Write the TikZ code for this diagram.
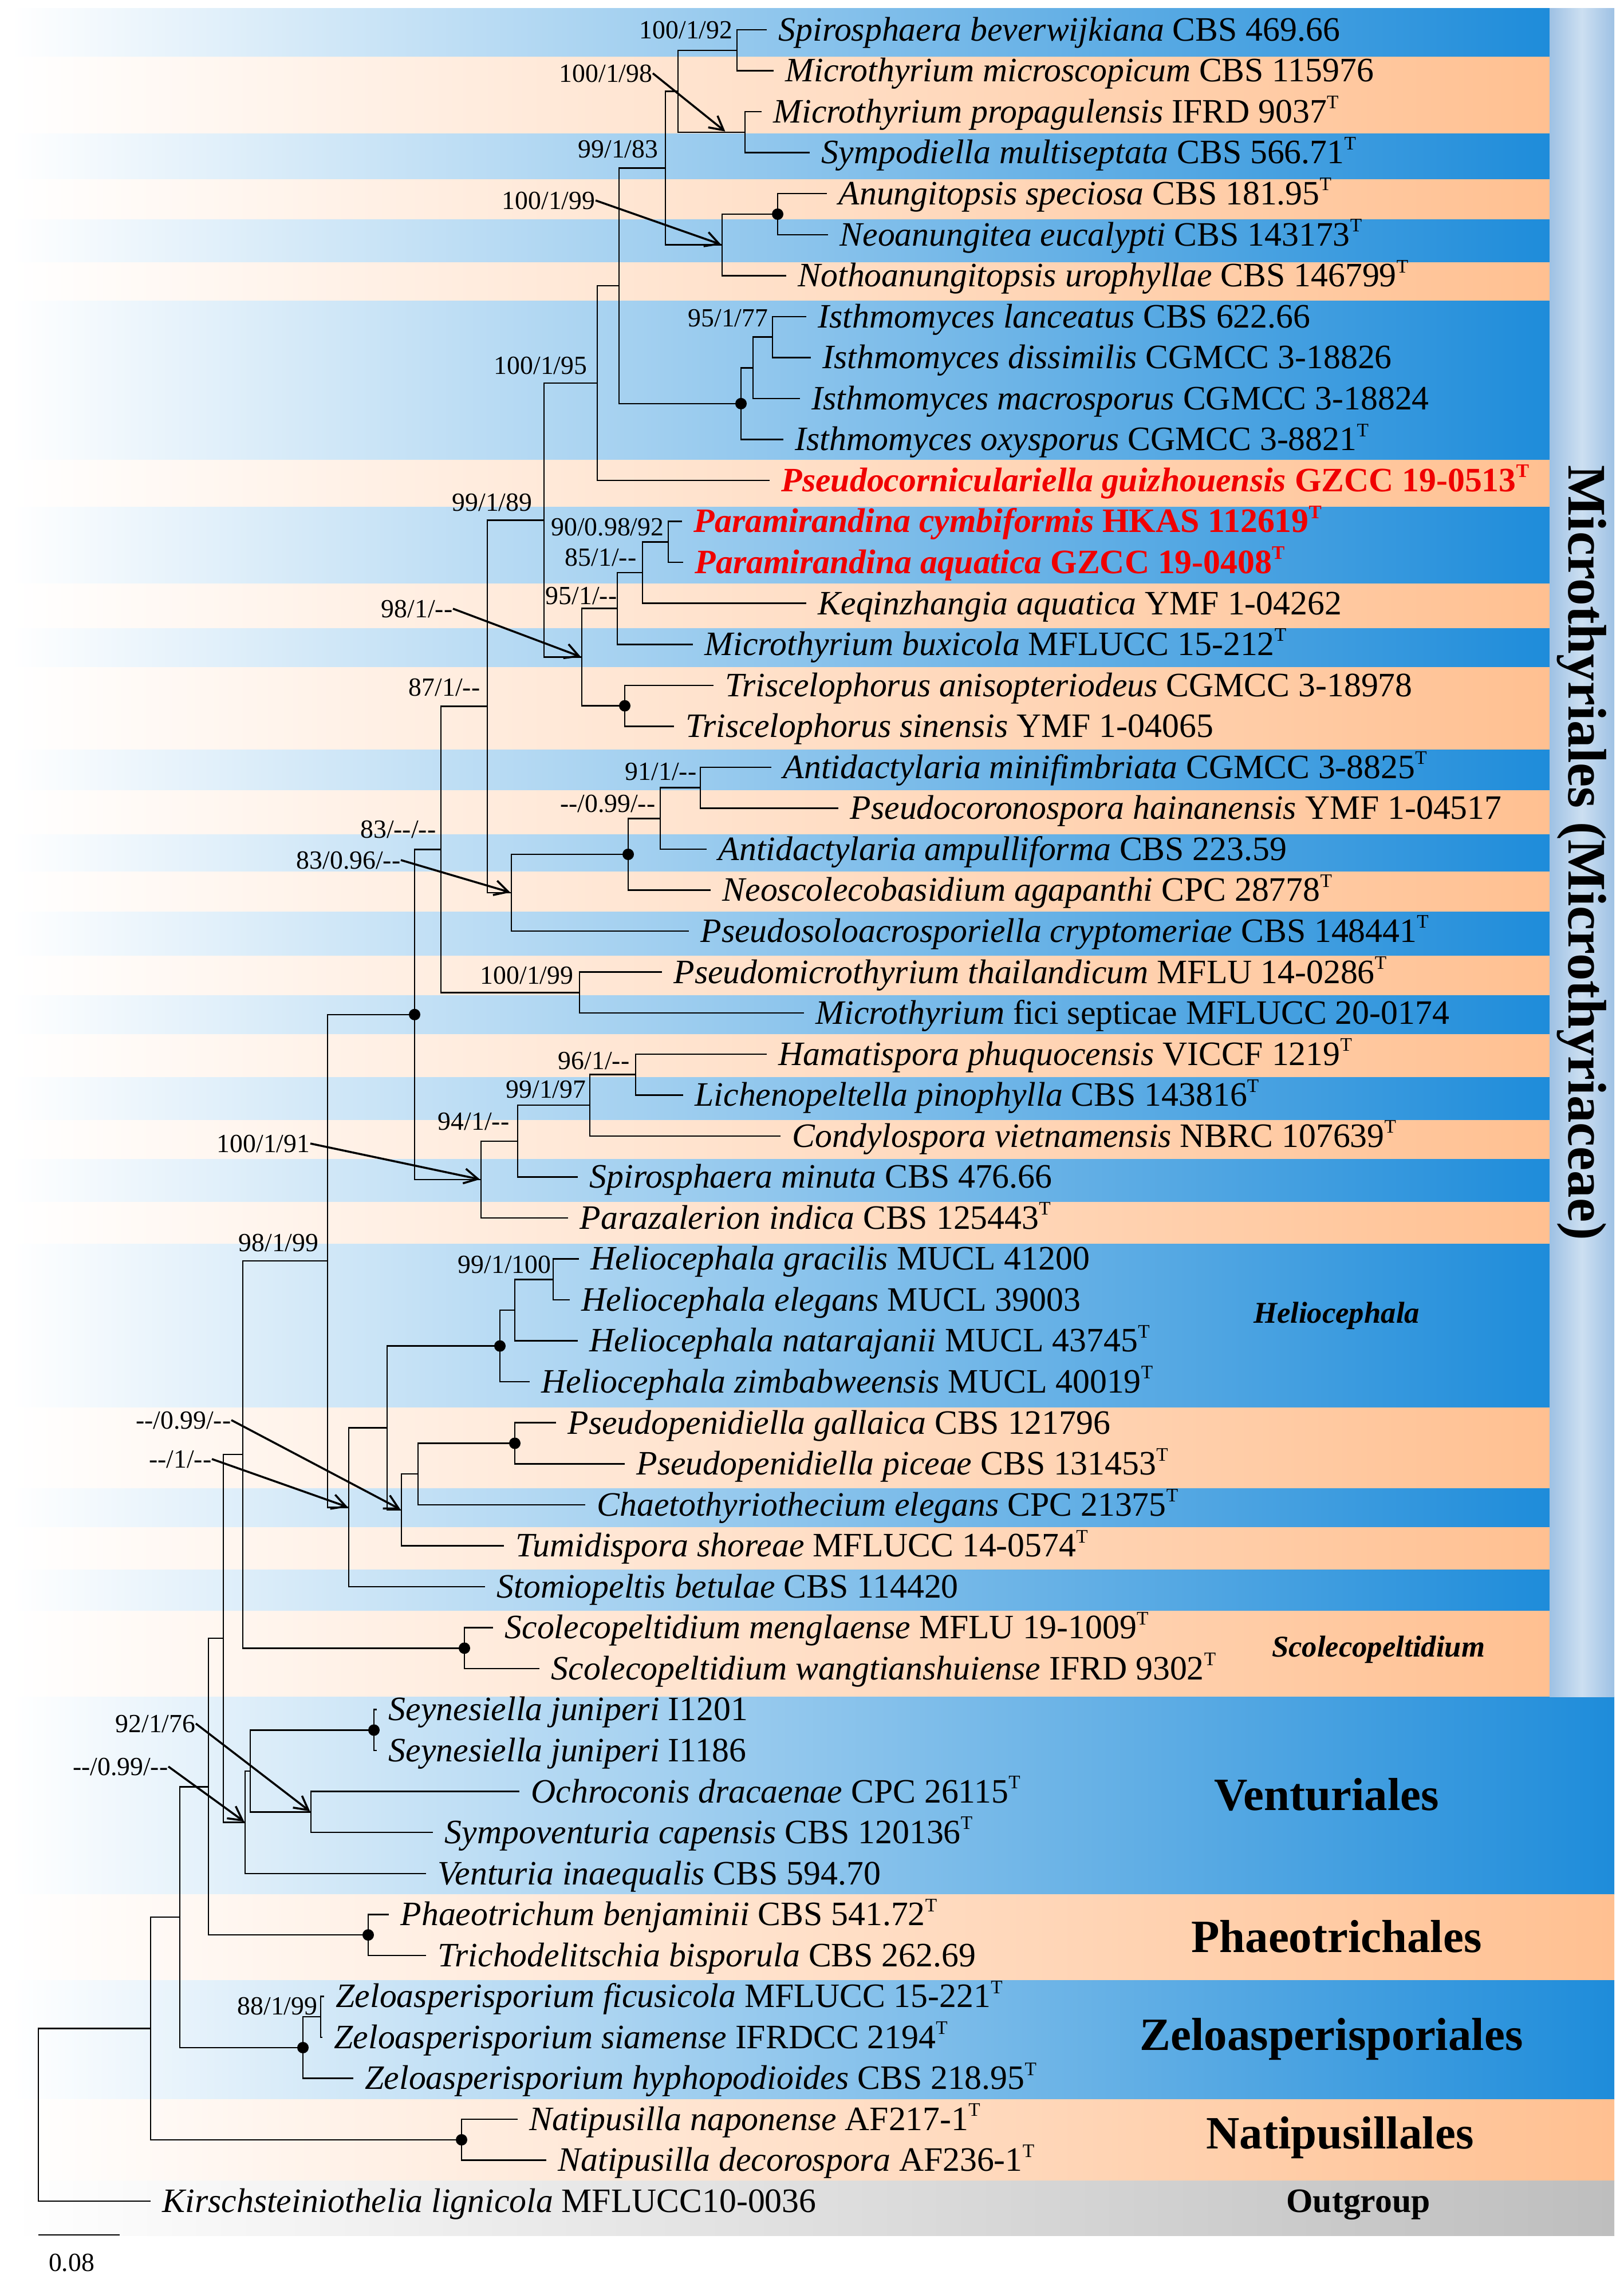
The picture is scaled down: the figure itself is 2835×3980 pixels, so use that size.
\documentclass[tikz,border=0pt]{standalone}
\usepackage{fontspec}
\setmainfont{Liberation Serif}
\usetikzlibrary{arrows.meta}
\definecolor{bandblue}{RGB}{30,140,218}
\definecolor{bandpeach}{RGB}{255,192,145}
\definecolor{bandgray}{RGB}{190,190,190}
\definecolor{baredge}{RGB}{158,193,228}
\definecolor{barmid}{RGB}{204,223,241}
\definecolor{newred}{RGB}{240,0,0}
\newcommand{\Ty}{\raisebox{7pt}{\fontsize{9.5}{9.5}\selectfont T}}
\tikzset{
  taxon/.style={anchor=west,inner xsep=2mm,inner ysep=0pt,text height=15pt,text depth=4pt,font=\fontsize{17}{20}\selectfont},
  newtaxon/.style={taxon,text=newred,font=\fontsize{17}{20}\selectfont\bfseries},
  supp/.style={anchor=east,inner sep=0pt,text height=9pt,text depth=0pt,font=\fontsize{13}{15}\selectfont},
  branch/.style={line width=0.25mm},
  sarrow/.style={line width=0.35mm,shorten >=0.2mm,-{Straight Barb[length=2.4mm,width=2.6mm]}},
  bpdot/.style={fill,circle,inner sep=0pt,minimum size=2mm},
  orderlab/.style={font=\fontsize{23}{27}\selectfont\bfseries},
  genuslab/.style={font=\fontsize{15}{18}\selectfont\bfseries\itshape}
}
\begin{document}
\begin{tikzpicture}[x=0.1mm,y=-0.1mm]
  \useasboundingbox (0,0) rectangle (2835,3980);
  \foreach \a/\b/\c in {15/100/bandblue,100/234/bandpeach,234/313/bandblue,313/383/bandpeach,
    383/458/bandblue,458/525/bandpeach,525/803/bandblue,803/885/bandpeach,885/1019/bandblue,
    1019/1097/bandpeach,1097/1165/bandblue,1165/1309/bandpeach,1309/1380/bandblue,1380/1457/bandpeach,
    1457/1522/bandblue,1522/1592/bandpeach,1592/1669/bandblue,1669/1738/bandpeach,1738/1806/bandblue,
    1806/1881/bandpeach,1881/1956/bandblue,1956/2024/bandpeach,2024/2099/bandblue,2099/2172/bandpeach,
    2172/2458/bandblue,2458/2599/bandpeach,2599/2667/bandblue,2667/2741/bandpeach,2741/2813/bandblue,
    2813/2963/bandpeach}
    \shade[left color=white,right color=\c] (20,\a) rectangle (2706,\b);
  \foreach \a/\b/\c in {2963/3308/bandblue,3308/3458/bandpeach,3458/3666/bandblue,3666/3808/bandpeach,3808/3904/bandgray}
    \shade[left color=white,right color=\c] (20,\a) rectangle (2819,\b);
  \shade[left color=baredge,right color=baredge,middle color=barmid] (2706,15) rectangle (2819,2963);
  \node[rotate=-90,font=\fontsize{27}{30}\selectfont\bfseries] (mic) at (2762,1489) {Microthyriales (Microthyriaceae)};

  \foreach \i/\x/\g/\c in {
    1/1339/Spirosphaera beverwijkiana/CBS 469.66,
    2/1351/Microthyrium microscopicum/CBS 115976,
    3/1330/Microthyrium propagulensis/IFRD 9037\Ty,
    4/1414/Sympodiella multiseptata/CBS 566.71\Ty,
    5/1444/Anungitopsis speciosa/CBS 181.95\Ty,
    6/1446/Neoanungitea eucalypti/CBS 143173\Ty,
    7/1373/Nothoanungitopsis urophyllae/CBS 146799\Ty,
    8/1408/Isthmomyces lanceatus/CBS 622.66,
    9/1416/Isthmomyces dissimilis/CGMCC 3-18826,
    10/1397/Isthmomyces macrosporus/CGMCC 3-18824,
    11/1368/Isthmomyces oxysporus/CGMCC 3-8821\Ty,
    15/1408/Keqinzhangia aquatica/YMF 1-04262,
    16/1210/Microthyrium buxicola/MFLUCC 15-212\Ty,
    17/1246/Triscelophorus anisopteriodeus/CGMCC 3-18978,
    18/1177/Triscelophorus sinensis/YMF 1-04065,
    19/1347/Antidactylaria minifimbriata/CGMCC 3-8825\Ty,
    20/1464/Pseudocoronospora hainanensis/YMF 1-04517,
    21/1234/Antidactylaria ampulliforma/CBS 223.59,
    22/1241/Neoscolecobasidium agapanthi/CPC 28778\Ty,
    23/1203/Pseudosoloacrosporiella cryptomeriae/CBS 148441\Ty,
    24/1156/Pseudomicrothyrium thailandicum/MFLU 14-0286\Ty,
    25/1404/Microthyrium/fici septicae MFLUCC 20-0174,
    26/1339/Hamatispora phuquocensis/VICCF 1219\Ty,
    27/1193/Lichenopeltella pinophylla/CBS 143816\Ty,
    28/1363/Condylospora vietnamensis/NBRC 107639\Ty,
    29/1009/Spirosphaera minuta/CBS 476.66,
    30/992/Parazalerion indica/CBS 125443\Ty,
    31/1011/Heliocephala gracilis/MUCL 41200,
    32/995/Heliocephala elegans/MUCL 39003,
    33/1009/Heliocephala natarajanii/MUCL 43745\Ty,
    34/925/Heliocephala zimbabweensis/MUCL 40019\Ty,
    35/971/Pseudopenidiella gallaica/CBS 121796,
    36/1091/Pseudopenidiella piceae/CBS 131453\Ty,
    37/1022/Chaetothyriothecium elegans/CPC 21375\Ty,
    38/880/Tumidispora shoreae/MFLUCC 14-0574\Ty,
    39/847/Stomiopeltis betulae/CBS 114420,
    40/861/Scolecopeltidium menglaense/MFLU 19-1009\Ty,
    41/942/Scolecopeltidium wangtianshuiense/IFRD 9302\Ty,
    42/658/Seynesiella juniperi/I1201,
    43/658/Seynesiella juniperi/I1186,
    44/907/Ochroconis dracaenae/CPC 26115\Ty,
    45/756/Sympoventuria capensis/CBS 120136\Ty,
    46/744/Venturia inaequalis/CBS 594.70,
    47/679/Phaeotrichum benjaminii/CBS 541.72\Ty,
    48/744/Trichodelitschia bisporula/CBS 262.69,
    49/566/Zeloasperisporium ficusicola/MFLUCC 15-221\Ty,
    50/563/Zeloasperisporium siamense/IFRDCC 2194\Ty,
    51/617/Zeloasperisporium hyphopodioides/CBS 218.95\Ty,
    52/904/Natipusilla naponense/AF217-1\Ty,
    53/954/Natipusilla decorospora/AF236-1\Ty,
    54/263/Kirschsteiniothelia lignicola/MFLUCC10-0036}
    \node[taxon] (t\i) at (\x,{52+71.55*(\i-1)}) {\textit{\g} \c};
  \node[newtaxon] (t12) at (1344,{52+71.55*11}) {\textit{Pseudocorniculariella guizhouensis} GZCC 19-0513\Ty};
  \node[newtaxon] (t13) at (1191,{52+71.55*12}) {\textit{Paramirandina cymbiformis} HKAS 112619\Ty};
  \node[newtaxon] (t14) at (1193,{52+71.55*13}) {\textit{Paramirandina aquatica} GZCC 19-0408\Ty};

  \foreach \n/\x/\y in {A/1287/87.8,B/1301/230.9,C/1184/159.4,D/1162/293.5,E/1358/374,F/1261/427.6,
    G/1081/499.2,H/1349/588.6,I/1315/642.3,J/1294/704.9,K/1043/669.2,L/950/908.4,M/1167/946.4,
    N/1122/1000,O/1078/1062.7,P/1091/1232.6,Q/1016/1147.6,R/851/1233.7,S/893/1559,T/1097/1492,
    U/1153/1429.3,V/1223/1375.7,W/770/1483.6,X/1012/1733.5,Y/724/1771.8,Z/1110/1876.5,AA/1030/1930,
    AB/904/1993,AC/840/2060,AD/572/2202,AE/609/2632.5,AF/899/2520.5,AG/730/2574.2,AH/701/2636.8,
    AI/676/2493.4,AJ/966/2234.3,AK/899/2288,AL/873/2350.6,AM/424/2540,AN/811/2878.3,AO/390/2861,
    AP/428/3182.3,AQ/653/3021.4,AR/543/3164.5,AS/437/3093,AT/364/3120.4,AU/643/3379.1,AV/314/3348,
    AW/560/3522.2,AX/529/3575.9,AY/263/3542.4,AZ/806/3736.9,root/67/3693}
    \coordinate (n\n) at (\x,\y);

  \foreach \p/\c in {A/t1.west,A/t2.west,B/t3.west,B/t4.west,C/nA,C/nB,D/nC,D/nF,E/t5.west,E/t6.west,
    F/nE,F/t7.west,G/nD,G/nJ,H/t8.west,H/t9.west,I/nH,I/t10.west,J/nI,J/t11.west,K/nG,K/t12.west,
    L/nK,L/nQ,M/t13.west,M/t14.west,N/nM,N/t15.west,O/nN,O/t16.west,P/t17.west,P/t18.west,Q/nO,Q/nP,
    R/nL,R/nS,S/nT,S/t23.west,T/nU,T/t22.west,U/nV,U/t21.west,V/t19.west,V/t20.west,W/nR,W/nX,
    X/t24.west,X/t25.west,Y/nW,Y/nAC,Z/t26.west,Z/t27.west,AA/nZ,AA/t28.west,AB/nAA,AB/t29.west,
    AC/nAB,AC/t30.west,AD/nY,AD/nAE,AE/nAI,AE/t39.west,AI/nAL,AI/nAH,AL/nAK,AL/t34.west,AK/nAJ,
    AK/t33.west,AJ/t31.west,AJ/t32.west,AH/nAG,AH/t38.west,AG/nAF,AG/t37.west,AF/t35.west,AF/t36.west,
    AM/nAD,AM/nAN,AN/t40.west,AN/t41.west,AO/nAM,AO/nAP,AP/nAS,AP/t46.west,AS/nAQ,AS/nAR,
    AQ/t42.west,AQ/t43.west,AR/t44.west,AR/t45.west,AT/nAO,AT/nAU,AU/t47.west,AU/t48.west,
    AV/nAT,AV/nAX,AX/nAW,AX/t51.west,AW/t49.west,AW/t50.west,AY/nAV,AY/nAZ,AZ/t52.west,AZ/t53.west,
    root/nAY,root/t54.west}
    \draw[branch] (n\p) |- (\c);
  \foreach \n in {E,J,P,T,Y,AL,AF,AN,AQ,AU,AX,AZ}
    \node[bpdot] (d\n) at (n\n) {};

  \node[supp] (s1) at (1280,52) {100/1/92};
  \node[supp] (s2) at (1140,128) {100/1/98};
  \node[supp] (s3) at (1150,260) {99/1/83};
  \node[supp] (s4) at (1040,350) {100/1/99};
  \node[supp] (s5) at (1342,555) {95/1/77};
  \node[supp] (s6) at (1026,638) {100/1/95};
  \node[supp] (s7) at (930,877) {99/1/89};
  \node[supp] (s8) at (1160,920) {90/0.98/92};
  \node[supp] (s9) at (1112,973) {85/1/-{}-};
  \node[supp] (s10) at (1078,1040) {95/1/-{}-};
  \node[supp] (s11) at (791,1063) {98/1/-{}-};
  \node[supp] (s12) at (839,1200) {87/1/-{}-};
  \node[supp] (s13) at (1217,1347) {91/1/-{}-};
  \node[supp] (s14) at (1145,1403) {-{}-/0.99/-{}-};
  \node[supp] (s15) at (762,1448) {83/-{}-/-{}-};
  \node[supp] (s16) at (700,1502) {83/0.96/-{}-};
  \node[supp] (s17) at (1002,1703) {100/1/99};
  \node[supp] (s18) at (1100,1852) {96/1/-{}-};
  \node[supp] (s19) at (1024,1902) {99/1/97};
  \node[supp] (s20) at (890,1958) {94/1/-{}-};
  \node[supp] (s21) at (542,1997) {100/1/91};
  \node[supp] (s22) at (557,2170) {98/1/99};
  \node[supp] (s23) at (963,2208) {99/1/100};
  \node[supp] (s24) at (404,2480) {-{}-/0.99/-{}-};
  \node[supp] (s25) at (370,2548) {-{}-/1/-{}-};
  \node[supp] (s26) at (342,3010) {92/1/76};
  \node[supp] (s27) at (294,3085) {-{}-/0.99/-{}-};
  \node[supp] (s28) at (555,3503) {88/1/99};
  \draw[sarrow] (s2.east) -- ([xshift=-3.3mm]nB);
  \draw[sarrow] (s4.east) -- (nF);
  \draw[sarrow] (s11.east) -- (nQ);
  \draw[sarrow] (s16.east) -- (nS);
  \draw[sarrow] (s21.east) -- (nAC);
  \draw[sarrow] (s24.east) -- (nAH);
  \draw[sarrow] (s25.east) -- (nAE);
  \draw[sarrow] (s26.east) -- (nAR);
  \draw[sarrow] (s27.east) -- (nAP);

  \node[genuslab] (hel) at (2334,2298) {Heliocephala};
  \node[genuslab] (sco) at (2407,2881) {Scolecopeltidium};
  \node[orderlab] (ven) at (2317,3134) {Venturiales};
  \node[orderlab] (pha) at (2334,3382) {Phaeotrichales};
  \node[orderlab] (zel) at (2325,3561) {Zeloasperisporiales};
  \node[orderlab] (nat) at (2340,3733) {Natipusillales};
  \node[font=\fontsize{17}{20}\selectfont\bfseries] (out) at (2372,3850) {Outgroup};

  \coordinate (sbl) at (67,3903);
  \coordinate (sbr) at (209,3903);
  \draw[branch] (sbl) -- (sbr);
  \node[font=\fontsize{13}{15}\selectfont] (sbt) at (125,3952) {0.08};
\end{tikzpicture}
\end{document}
